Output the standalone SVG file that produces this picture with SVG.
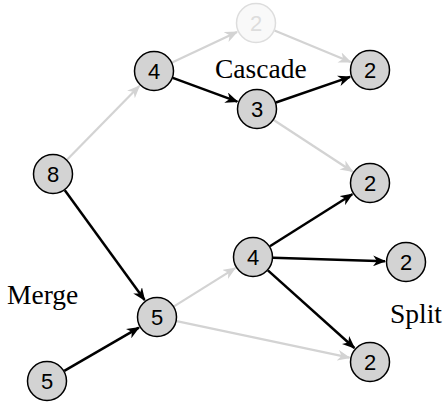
<svg xmlns="http://www.w3.org/2000/svg" width="446" height="404" viewBox="0 0 446 404">
<style>
.n circle{fill:#d3d3d3;stroke:#000;stroke-width:1.5}
.n text{font-family:"Liberation Sans",Arial,sans-serif;font-size:22px;text-anchor:middle;fill:#000}
.faded circle{fill:#f9f9f9;stroke:#dddddd}
.faded text{fill:#dddddd}
.e{fill:none}
.g{stroke:#d3d3d3;stroke-width:2.2;marker-end:url(#ag)}
.b{stroke:#000;stroke-width:2.5;marker-end:url(#ab)}
.lbl{font-family:"Liberation Serif","Times New Roman",serif;font-size:27.5px;fill:#000}
</style>
<defs>
<marker id="ab" viewBox="0 0 12 10" refX="11" refY="5" markerWidth="13" markerHeight="11" markerUnits="userSpaceOnUse" orient="auto"><path d="M0,0 L12,5 L0,10 L3.5,5 Z" fill="#000"/></marker>
<marker id="ag" viewBox="0 0 12 10" refX="11" refY="5" markerWidth="13" markerHeight="11" markerUnits="userSpaceOnUse" orient="auto"><path d="M0,0 L12,5 L0,10 L3.5,5 Z" fill="#d3d3d3"/></marker>
</defs>
<g id="connectors" class="e">
<line class="g" x1="67.0" y1="159.7" x2="139.3" y2="86.0"/>
<line class="g" x1="172.1" y1="62.5" x2="237.0" y2="31.9"/>
<line class="g" x1="274.5" y1="30.6" x2="350.6" y2="62.0"/>
<line class="g" x1="273.7" y1="120.0" x2="352.4" y2="171.5"/>
<line class="g" x1="174.0" y1="306.4" x2="235.2" y2="268.1"/>
<line class="g" x1="176.6" y1="321.1" x2="349.5" y2="357.7"/>
<line class="b" x1="172.8" y1="77.9" x2="237.3" y2="101.7"/>
<line class="b" x1="275.9" y1="102.5" x2="350.1" y2="76.9"/>
<line class="b" x1="64.8" y1="190.2" x2="144.6" y2="300.0"/>
<line class="b" x1="64.3" y1="370.9" x2="138.9" y2="327.6"/>
<line class="b" x1="269.9" y1="246.3" x2="352.3" y2="194.2"/>
<line class="b" x1="273.0" y1="257.7" x2="385.0" y2="261.3"/>
<line class="b" x1="267.9" y1="270.4" x2="354.4" y2="348.0"/>
</g>
<g id="n8" class="n"><circle cx="53" cy="174" r="19.5"/><text x="53" y="182">8</text></g>
<g id="n4top" class="n"><circle cx="154" cy="71" r="19.5"/><text x="154" y="79">4</text></g>
<g id="n2faded" class="n faded"><circle cx="256" cy="23" r="19.5"/><text x="256" y="31">2</text></g>
<g id="n3" class="n"><circle cx="257" cy="109" r="19.5"/><text x="257" y="117">3</text></g>
<g id="n2tr" class="n"><circle cx="370" cy="70" r="19.5"/><text x="370" y="78">2</text></g>
<g id="n2mr" class="n"><circle cx="370" cy="183" r="19.5"/><text x="370" y="191">2</text></g>
<g id="n4mid" class="n"><circle cx="253" cy="257" r="19.5"/><text x="253" y="265">4</text></g>
<g id="n2split" class="n"><circle cx="406" cy="262" r="19.5"/><text x="406" y="270">2</text></g>
<g id="n5merge" class="n"><circle cx="157" cy="317" r="19.5"/><text x="157" y="325">5</text></g>
<g id="n2bot" class="n"><circle cx="370" cy="362" r="19.5"/><text x="370" y="370">2</text></g>
<g id="n5bot" class="n"><circle cx="47" cy="381" r="19.5"/><text x="47" y="389">5</text></g>
<text class="lbl" x="215" y="78">Cascade</text>
<text class="lbl" x="7" y="304">Merge</text>
<text class="lbl" x="390" y="323">Split</text>
</svg>
